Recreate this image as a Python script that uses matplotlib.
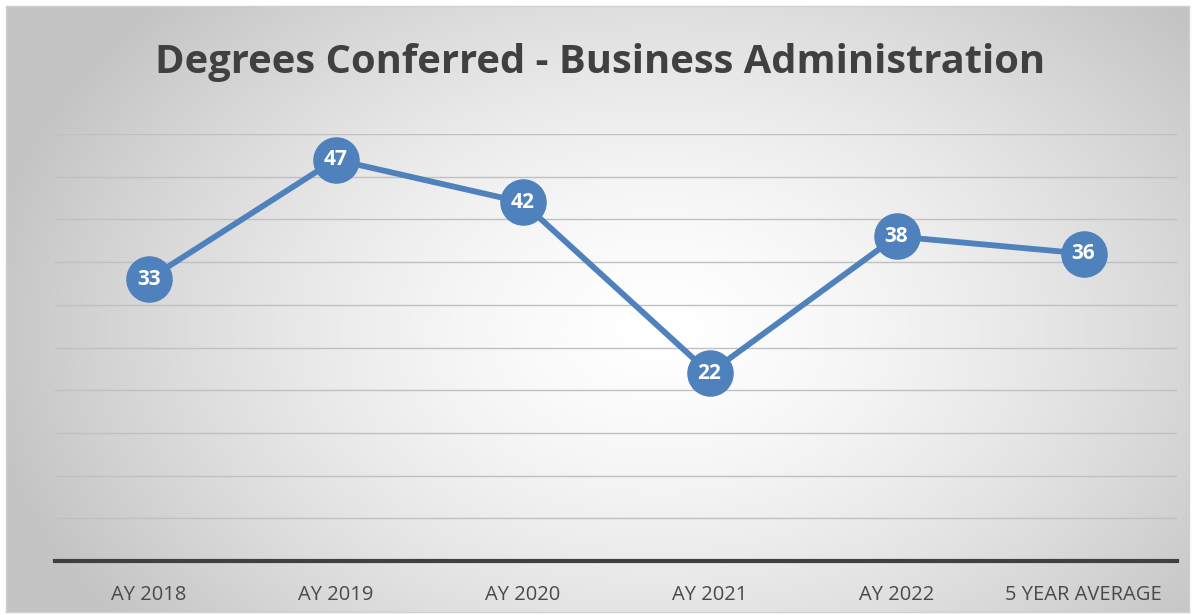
import numpy as np
import matplotlib
matplotlib.use("Agg")
import matplotlib.pyplot as plt

categories = ["AY 2018", "AY 2019", "AY 2020", "AY 2021", "AY 2022", "5 YEAR AVERAGE"]
values = [33, 47, 42, 22, 38, 36]
title = "Degrees Conferred - Business Administration"

W, H = 1196, 615
fig = plt.figure(figsize=(W / 100, H / 100), dpi=100)
fig.patch.set_facecolor("white")

# background radial gradient panel
x0, y0, x1, y1 = 6, 6, 1189, 612
bg = fig.add_axes([x0 / W, 1 - y1 / H, (x1 - x0) / W, (y1 - y0) / H])
nx, ny = 600, 310
xx, yy = np.meshgrid(np.linspace(x0, x1, nx), np.linspace(y1, y0, ny))
cx, cy = 660, 330
r = np.sqrt(((xx - cx) / 680) ** 2 + ((yy - cy) / 480) ** 2)
r = np.clip(r, 0, 1)
light = 1.0 - 0.23 * r ** 1.5
img = np.dstack([light, light, light])
bg.imshow(img, aspect="auto", extent=[0, 1, 0, 1], interpolation="bilinear", origin="lower")
bg.set_xlim(0, 1)
bg.set_ylim(0, 1)
bg.set_xticks([])
bg.set_yticks([])
for s in bg.spines.values():
    s.set_color("#d0d0d0")
    s.set_linewidth(1.0)

# main axes
left, right, top, bottom = 55, 1177, 134, 561
ax = fig.add_axes([left / W, 1 - bottom / H, (right - left) / W, (bottom - top) / H])
ax.set_facecolor("none")
x = np.arange(len(categories))
ax.plot(x, values, color="#4F81BD", linewidth=4.2, marker="o", markersize=32.5,
        markerfacecolor="#4F81BD", markeredgecolor="#4F81BD", zorder=3, clip_on=False)
for xi, v in zip(x, values):
    ax.text(xi, v, str(v), ha="center", va="center", color="white",
            fontsize=15, fontweight="bold", family="Open Sans", zorder=4)

ax.set_xlim(-0.5, len(categories) - 0.5)
ax.set_ylim(0, 50)
ax.set_yticks(np.arange(5, 51, 5))
ax.yaxis.grid(True, color="#c0c0c0", linewidth=1.0)
ax.set_axisbelow(True)
ax.tick_params(axis="y", left=False, labelleft=False)
ax.set_xticks(x)
ax.set_xticklabels(categories, fontsize=14.5, color="#4a4a4a", family="Open Sans")
ax.tick_params(axis="x", length=0, pad=17)
for s in ["top", "left", "right"]:
    ax.spines[s].set_visible(False)
ax.spines["bottom"].set_color("#404040")
ax.spines["bottom"].set_linewidth(3.0)

fig.text(600 / W, 1 - 73 / H, title, ha="center", va="baseline", fontsize=28.7,
         fontweight="bold", color="#404040", family="Open Sans")

fig.savefig("out.png", dpi=100)
